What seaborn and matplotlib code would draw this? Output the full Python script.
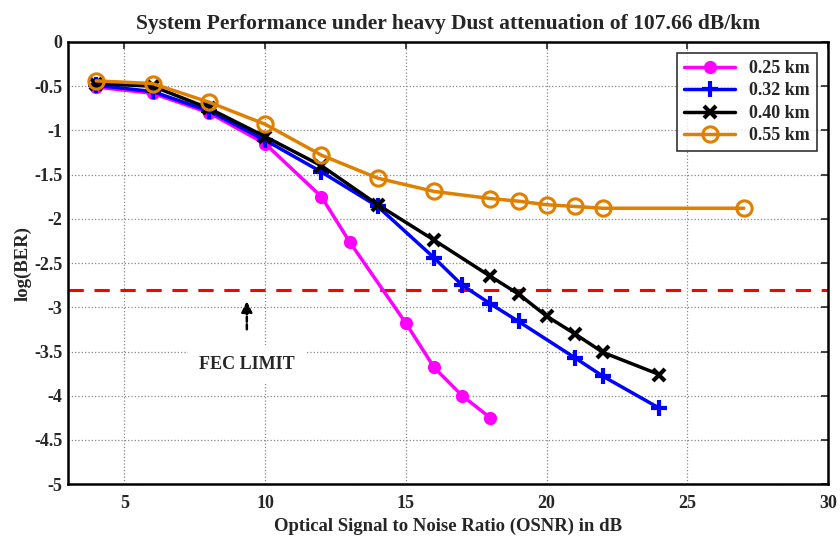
import matplotlib
matplotlib.use("Agg")
import matplotlib.pyplot as plt
import seaborn as sns
import pandas as pd
import numpy as np
from matplotlib.ticker import FuncFormatter

# Data
x_025 = [4, 6, 8, 10, 12, 13, 15, 16, 17, 18]
y_025 = [-0.51, -0.58, -0.80, -1.15, -1.75, -2.26, -3.18, -3.68, -4.00, -4.25]

x_032 = [4, 6, 8, 10, 12, 14, 16, 17, 18, 19, 21, 22, 24]
y_032 = [-0.49, -0.56, -0.78, -1.11, -1.47, -1.86, -2.44, -2.75, -2.96, -3.16, -3.57, -3.78, -4.14]

x_040 = [4, 6, 8, 10, 12, 14, 16, 18, 19, 20, 21, 22, 24]
y_040 = [-0.47, -0.50, -0.75, -1.07, -1.40, -1.84, -2.24, -2.65, -2.85, -3.10, -3.30, -3.51, -3.76]

x_055 = [4, 6, 8, 10, 12, 14, 16, 18, 19, 20, 21, 22, 27]
y_055 = [-0.44, -0.47, -0.68, -0.93, -1.28, -1.54, -1.69, -1.77, -1.80, -1.84, -1.86, -1.88, -1.88]

labels = ["0.25 km", "0.32 km", "0.40 km", "0.55 km"]
fec_limit = -2.8

sns.set_style("white")
plt.rcParams['font.family'] = ['Liberation Serif', 'DejaVu Serif']
plt.rcParams['font.weight'] = 'bold'
plt.rcParams['axes.unicode_minus'] = False

fig = plt.figure(figsize=(8.4, 5.38), dpi=100)
ax = fig.add_axes([0.081, 0.100, 0.905, 0.822])

series = [
    (x_025, y_025, labels[0], dict(color="#FF00FF", marker="o", markersize=8, markeredgewidth=1.5,
                                   markerfacecolor="#FF00FF", markeredgecolor="#FF00FF")),
    (x_032, y_032, labels[1], dict(color="#0000FF", marker="+", markersize=11, markeredgewidth=3,
                                   markeredgecolor="#0000FF")),
    (x_040, y_040, labels[2], dict(color="#000000", marker="x", markersize=8, markeredgewidth=3,
                                   markeredgecolor="#000000")),
    (x_055, y_055, labels[3], dict(color="#E08000", marker="o", markersize=11, markeredgewidth=2.2,
                                   markerfacecolor="none", markeredgecolor="#E08000")),
]
for xs, ys, lab, kw in series:
    df = pd.DataFrame({"x": xs, "y": ys})
    sns.lineplot(data=df, x="x", y="y", ax=ax, label=lab, linewidth=2.5, **kw)

ax.axhline(fec_limit, color="#FF0000", linestyle=(0, (5, 3.5)), linewidth=2.2, zorder=1)

ax.annotate("", xy=(9.35, -2.9), xytext=(9.35, -3.28),
            arrowprops=dict(arrowstyle="-|>", color="black", linestyle=(0, (2, 1)), lw=1.8,
                            mutation_scale=16))
ax.text(9.36, -3.65, "FEC LIMIT", ha="center", va="center", fontsize=13, fontweight="bold",
        bbox=dict(facecolor="white", edgecolor="none", pad=8))

ax.set_xlim(3, 30)
ax.set_ylim(-5, 0)
ax.set_xticks([5, 10, 15, 20, 25, 30])
ax.set_yticks(np.arange(-5, 0.01, 0.5))
ax.yaxis.set_major_formatter(FuncFormatter(lambda v, p: f"{v:g}"))
ax.tick_params(direction="in", length=5, width=1.2, labelsize=13, top=True, right=True)
ax.tick_params(axis="x", pad=8)
ax.tick_params(axis="y", pad=4)
for t in ax.get_xticklabels() + ax.get_yticklabels():
    t.set_fontweight("bold")
ax.grid(True, color="#888888", linestyle=":", linewidth=0.9)
for s in ax.spines.values():
    s.set_color("black")
    s.set_linewidth(1.8)

ax.set_xlabel("Optical Signal to Noise Ratio (OSNR) in dB", fontsize=13.5, fontweight="bold", labelpad=4)
ax.set_ylabel("log(BER)", fontsize=13.5, fontweight="bold", labelpad=2)
ax.set_title("System Performance under heavy Dust attenuation of 107.66 dB/km", fontsize=15.5, fontweight="bold", pad=9)

leg = ax.legend(loc="upper right", fontsize=13, frameon=True, fancybox=False, edgecolor="black",
                borderaxespad=0.6, handlelength=2.8, labelspacing=0.3)
leg.get_frame().set_linewidth(1.2)
for t in leg.get_texts():
    t.set_fontweight("bold")

fig.savefig("out.png", dpi=100)
